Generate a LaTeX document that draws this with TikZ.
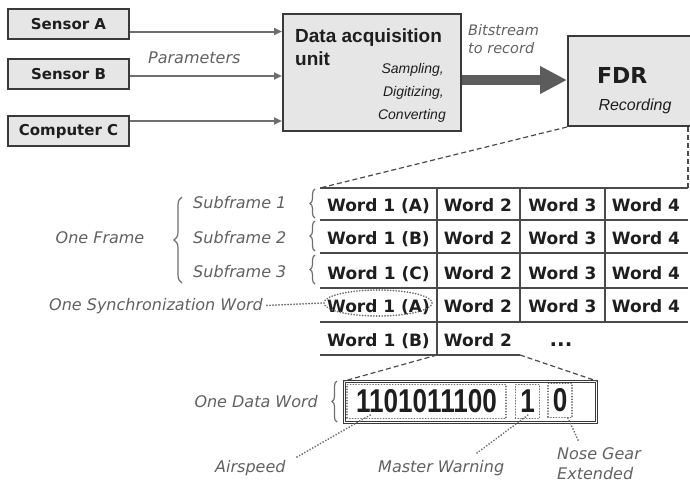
\documentclass[tikz,border=0pt]{standalone}
\usepackage{fontspec}
\setmainfont{DejaVu Sans}
\newfontfamily\arialfont{Liberation Sans}
\usetikzlibrary{arrows.meta,decorations.pathreplacing,shapes.geometric,calc}
\definecolor{boxfill}{HTML}{E6E6E6}
\definecolor{boxline}{HTML}{3A3A3A}
\definecolor{lblgray}{HTML}{616161}
\definecolor{dotgray}{HTML}{6A6A6A}
\definecolor{arrgray}{HTML}{6E6E6E}
\definecolor{bigarr}{HTML}{5C5C5C}
\definecolor{tblline}{HTML}{4A4A4A}
\definecolor{txtdark}{HTML}{1E1E1E}
\begin{document}
\begin{tikzpicture}[x=1pt,y=-1pt,
  srcbox/.style={draw=boxline, line width=2pt, fill=boxfill, inner sep=0pt, minimum width=121pt, minimum height=30pt, font=\fontsize{15}{18}\selectfont\bfseries, text=txtdark},
  bigbox/.style={draw=boxline, line width=2pt, fill=boxfill, inner sep=0pt},
  parr/.style={draw=arrgray, line width=2pt, -{Triangle[length=8pt,width=7pt]}},
  glabel/.style={font=\fontsize{16}{19}\selectfont\itshape, text=lblgray, inner sep=0pt},
  ilabel/.style={font=\arialfont\fontsize{14}{17}\selectfont\itshape, text=txtdark, inner sep=0pt, anchor=base east},
  cell/.style={font=\fontsize{17}{20}\selectfont\bfseries, text=txtdark, inner sep=0pt, anchor=base},
  tline/.style={draw=tblline, line width=1.3pt},
  dashln/.style={draw=tblline, line width=1.2pt, dash pattern=on 5pt off 3pt},
  dotln/.style={draw=dotgray, line width=2pt, line cap=round, dash pattern=on 0.01pt off 3pt},
  brc/.style={draw=arrgray, line width=1.2pt, decorate, decoration={brace, amplitude=#1}},
  dotbox/.style={draw=dotgray, line width=1.9pt, line cap=round, dash pattern=on 0.01pt off 2.8pt, inner sep=0pt, text=txtdark},
]
\useasboundingbox (0,0) rectangle (690,483);

% ---- top: sources, DAQ, FDR
\node[srcbox] (sa) at (68.5,24) {Sensor A};
\node[srcbox] (sb) at (68.5,74) {Sensor B};
\node[srcbox] (sc) at (68.5,131) {Computer C};

\node[bigbox, minimum width=178pt, minimum height=117pt] (daq) at (372,72.5) {};
\node[font=\arialfont\fontsize{19}{22}\selectfont\bfseries, text=txtdark, anchor=base west, inner sep=0pt] (daqt) at (295,42) {Data acquisition};
\node[font=\arialfont\fontsize{19}{22}\selectfont\bfseries, text=txtdark, anchor=base west, inner sep=0pt] (daqu) at (295,65) {unit};
\node[ilabel] (samp) at (444,73) {Sampling,};
\node[ilabel] (digi) at (444,96) {Digitizing,};
\node[ilabel] (conv) at (446,119) {Converting};

\node[bigbox, minimum width=124pt, minimum height=90pt] (fdr) at (630,81) {};
\node[font=\fontsize{22}{26}\selectfont\bfseries, text=txtdark, anchor=base west, inner sep=0pt] (fdrt) at (597,83) {FDR};
\node[font=\arialfont\fontsize{16}{19}\selectfont\itshape, text=txtdark, anchor=base, inner sep=0pt] (rec) at (635,110) {Recording};

\draw[parr] ([yshift=-7.5pt]sa.east) -- ([yshift=-7.5pt]sa.east -| daq.west);
\draw[parr] ([yshift=-2pt]sb.east) -- ([yshift=-2pt]sb.east -| daq.west);
\draw[parr] ([yshift=10pt]sc.east) -- ([yshift=10pt]sc.east -| daq.west);
\node[glabel, anchor=base west] (par) at (148,63) {Parameters};

\draw[draw=bigarr, line width=10pt, -{Triangle[length=27pt,width=26pt]}] ([yshift=-7.5pt]daq.east) -- ([yshift=-7.5pt]daq.east -| fdr.west);
\node[glabel, font=\fontsize{14.5}{17}\selectfont\itshape, anchor=base west] (bit1) at (468,35) {Bitstream};
\node[glabel, font=\fontsize{14.5}{17}\selectfont\itshape, anchor=base west] (bit2) at (468,53) {to record};

% ---- table
\coordinate (ttl) at (320,188);
\coordinate (ttr) at (688,188);
\coordinate (fdrbr) at (688,127);
\draw[dashln] (fdr.south west) -- (ttl);
\draw[dashln] (fdrbr) -- (ttr);

\foreach \yy in {188,220,253,288,322} {\draw[tline] (320,\yy) -- (688,\yy);}
\draw[tline] (320,355) -- (520,355);
\draw[tline] (437,188) -- (437,355);
\draw[tline] (520,188) -- (520,322);
\draw[tline] (605,188) -- (605,322);

\node[cell] (c11) at (378.5,211) {Word 1 (A)};
\node[cell] (c12) at (478,211) {Word 2};
\node[cell] (c13) at (562.5,211) {Word 3};
\node[cell] (c14) at (646,211) {Word 4};
\node[cell] (c21) at (378.5,244.5) {Word 1 (B)};
\node[cell] (c22) at (478,244.5) {Word 2};
\node[cell] (c23) at (562.5,244.5) {Word 3};
\node[cell] (c24) at (646,244.5) {Word 4};
\node[cell] (c31) at (378.5,279) {Word 1 (C)};
\node[cell] (c32) at (478,279) {Word 2};
\node[cell] (c33) at (562.5,279) {Word 3};
\node[cell] (c34) at (646,279) {Word 4};
\node[cell] (c41) at (378.5,312.5) {Word 1 (A)};
\node[cell] (c42) at (478,312.5) {Word 2};
\node[cell] (c43) at (562.5,312.5) {Word 3};
\node[cell] (c44) at (646,312.5) {Word 4};
\node[cell] (c51) at (378.5,346) {Word 1 (B)};
\node[cell] (c52) at (478,346) {Word 2};
\node[cell, font=\fontsize{20}{22}\selectfont\bfseries] (c53) at (561,346) {...};

% braces and frame labels
\draw[brc=5pt] (315,218) -- (315,189);
\draw[brc=5pt] (315,251) -- (315,221);
\draw[brc=5pt] (315,284) -- (315,255);
\draw[brc=8pt] (182,283) -- (182,197);
\node[glabel, anchor=base west] (sf1) at (193,208) {Subframe 1};
\node[glabel, anchor=base west] (sf2) at (193,243) {Subframe 2};
\node[glabel, anchor=base west] (sf3) at (193,277) {Subframe 3};
\node[glabel, anchor=base] (onef) at (100,243) {One Frame};

% sync word
\node[dotbox, ellipse, minimum width=108pt, minimum height=26pt] (sync) at (378,303) {};
\node[glabel, anchor=base east] (syncl) at (263,310) {One Synchronization Word};
\draw[dotln, shorten <=4pt] (syncl.east) -- (sync.west);

% ---- data word
\coordinate (w2bl) at (437,355);
\coordinate (w2br) at (520,355);
\node[draw=boxline, double, double distance=1.2pt, line width=0.9pt, minimum width=252pt, minimum height=41pt, inner sep=0pt] (dw) at (470.5,402) {};
\draw[dashln] (w2bl) -- (dw.north west);
\draw[dashln] (w2br) -- (dw.north east);

\node[dotbox, minimum width=159pt, minimum height=34pt] (b1) at (426.5,401.5) {\scalebox{0.79}[1]{\arialfont\bfseries\fontsize{33}{40}\selectfont 1101011100}};
\node[dotbox, minimum width=24pt, minimum height=34pt] (b2) at (527.5,401.5) {\scalebox{0.79}[1]{\arialfont\bfseries\fontsize{33}{40}\selectfont 1}};
\node[dotbox, minimum width=24pt, minimum height=34pt] (b3) at (560,400.5) {\scalebox{0.79}[1]{\arialfont\bfseries\fontsize{33}{40}\selectfont 0}};

\draw[brc=5pt] (337,422) -- (337,381);
\node[glabel, anchor=base east] (odw) at (318,407) {One Data Word};

% leaders
\node[glabel, anchor=base west] (air) at (215,472) {Airspeed};
\node[glabel, anchor=base west] (mw) at (378,472) {Master Warning};
\node[glabel, anchor=base west] (ng1) at (557,459) {Nose Gear};
\node[glabel, anchor=base west] (ng2) at (557,479) {Extended};
\coordinate (airs) at (297,457);
\coordinate (airt) at (372,414);
\coordinate (mws) at (477,453);
\coordinate (mwt) at (528,415);
\coordinate (ngs) at (578,440);
\coordinate (ngt) at (567,416);
\draw[dotln] (airs) -- (airt);
\draw[dotln] (mws) -- (mwt);
\draw[dotln] (ngs) -- (ngt);
\end{tikzpicture}
\end{document}
